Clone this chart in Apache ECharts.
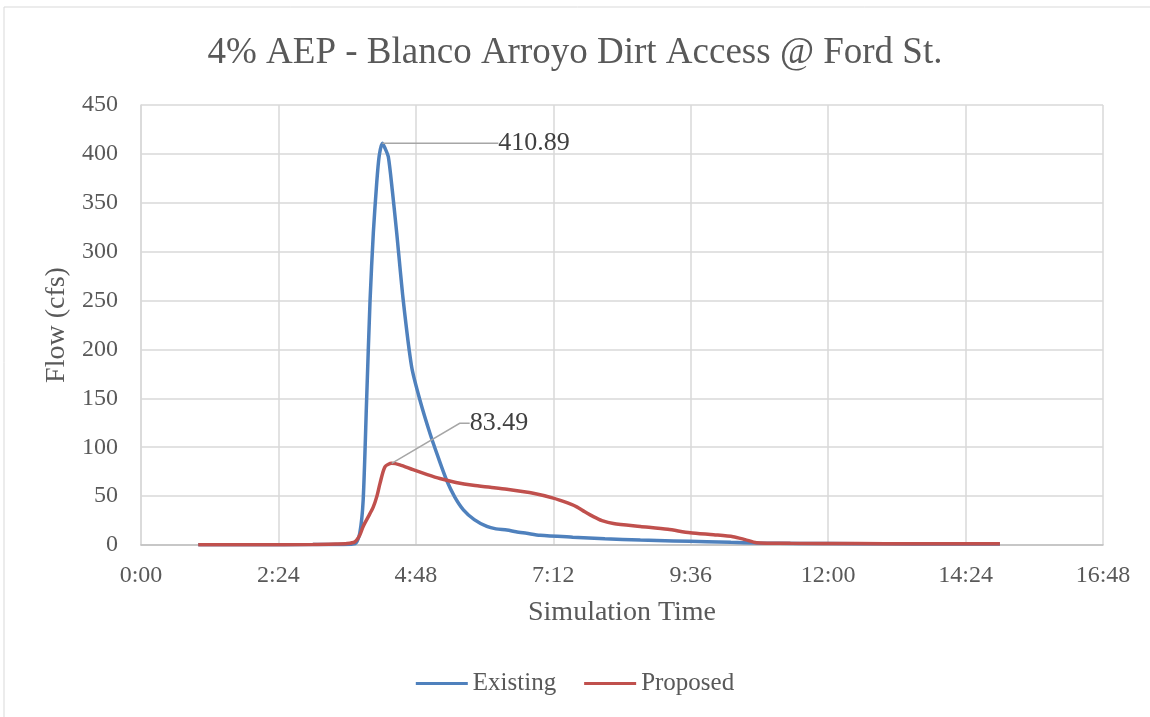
<!DOCTYPE html>
<html><head><meta charset="utf-8">
<script src="https://cdn.jsdelivr.net/npm/echarts@6/dist/echarts.min.js"></script>
<style>html,body{margin:0;padding:0;background:#fff}#c{width:1150px;height:717px}</style>
</head><body><div id="c"></div>
<script>
// time in hours, flow in cfs
const existingTime = [1.0, 2.0, 3.0, 3.5, 3.74, 3.82, 3.88, 3.94, 4.0, 4.057, 4.116, 4.16, 4.214, 4.26, 4.319, 4.39, 4.466, 4.58, 4.727, 4.872, 5.047, 5.2, 5.339, 5.48, 5.63, 5.82, 6.04, 6.2, 6.39, 6.55, 6.735, 6.97, 7.54, 8.1, 8.72, 9.3, 9.88, 10.3, 10.76, 11.5, 12.5, 13.5, 14.5, 15.0];
const existingFlow = [0.2, 0.3, 0.4, 0.6, 1.5, 12, 46, 148, 250, 319, 370, 398, 410.89, 406, 397, 362, 319, 250, 182, 148, 114, 88, 66, 49, 36, 26, 19, 16.5, 15.3, 13.5, 12, 10, 8, 6.3, 5, 4.2, 3.4, 2.7, 2, 1.6, 1.3, 1.1, 1.0, 1.0];
const proposedTime = [1.0, 2.0, 3.0, 3.4, 3.6, 3.737, 3.82, 3.88, 3.97, 4.057, 4.12, 4.174, 4.26, 4.377, 4.52, 4.75, 5.0, 5.22, 5.5, 5.8, 6.1, 6.39, 6.85, 7.2, 7.45, 7.61, 7.75, 7.9, 8.05, 8.25, 8.72, 9.2, 9.59, 10.0, 10.34, 10.55, 10.75, 11.34, 12.5, 13.5, 14.5, 15.0];
const proposedFlow = [0.2, 0.3, 0.5, 1.0, 1.5, 3.4, 10, 19, 29, 39, 50, 63, 80, 83.49, 82, 77, 72, 68, 64, 61, 59, 57, 53, 48, 43, 39, 34, 29, 25, 22, 19, 16, 12.6, 10.5, 8.5, 5.5, 2.4, 1.7, 1.5, 1.3, 1.2, 1.2];
const xTickLabels = ['0:00', '2:24', '4:48', '7:12', '9:36', '12:00', '14:24', '16:48'];
const yTicks = [0, 50, 100, 150, 200, 250, 300, 350, 400, 450];

const existingPeak = 410.89, proposedPeak = 83.49;
const font = '"Liberation Serif", "DejaVu Serif", serif';
const textColor = '#595959';

function pairs(t, v, peak) {
  return t.map((x, i) => {
    const item = { value: [x, v[i]] };
    if (v[i] === peak) {
      item.label = { show: true, formatter: String(peak) };
      item.labelLine = { show: true };
    }
    return item;
  });
}

const chart = echarts.init(document.getElementById('c'));
chart.setOption({
  backgroundColor: '#fff',
  animation: false,
  textStyle: { fontFamily: font },
  graphic: [{ type: 'rect', shape: { x: 4, y: 7, width: 1160, height: 720 }, style: { fill: 'none', stroke: '#d9d9d9', lineWidth: 1 }, silent: true }],
  title: {
    text: '4% AEP - Blanco Arroyo Dirt Access @ Ford St.',
    left: 'center', top: 30,
    textStyle: { fontFamily: font, fontSize: 37, fontWeight: 'normal', color: textColor }
  },
  legend: {
    bottom: 16, left: 'center',
    icon: 'rect', itemWidth: 52, itemHeight: 3, itemGap: 28,
    textStyle: { fontFamily: font, fontSize: 25, color: textColor },
    data: ['Existing', 'Proposed']
  },
  grid: { left: 141, right: 47, top: 105, bottom: 172, containLabel: false },
  xAxis: {
    type: 'value', min: 0, max: 16.8, interval: 2.4,
    name: 'Simulation Time', nameLocation: 'middle', nameGap: 54,
    nameTextStyle: { fontFamily: font, fontSize: 28, color: textColor },
    axisLine: { show: true, lineStyle: { color: '#bfbfbf', width: 1.5 } },
    axisTick: { show: false },
    splitLine: { show: true, lineStyle: { color: '#d9d9d9', width: 1.5 } },
    axisLabel: {
      fontFamily: font, fontSize: 24, color: textColor, margin: 19,
      formatter: v => xTickLabels[Math.round(v / 2.4)] || ''
    }
  },
  yAxis: {
    type: 'value', min: 0, max: 450, interval: 50,
    name: 'Flow (cfs)', nameLocation: 'middle', nameGap: 69, nameRotate: 90,
    nameTextStyle: { fontFamily: font, fontSize: 28, color: textColor },
    axisLine: { show: true, lineStyle: { color: '#d9d9d9', width: 1.5 } },
    axisTick: { show: false },
    splitLine: { show: true, lineStyle: { color: '#d9d9d9', width: 1.5 } },
    axisLabel: {
      fontFamily: font, fontSize: 24, color: textColor, margin: 23,
      formatter: v => yTicks.includes(v) ? String(v) : ''
    }
  },
  series: [
    {
      name: 'Existing', type: 'line', smooth: 0.25, showSymbol: true, symbol: 'circle', symbolSize: 0.1,
      lineStyle: { color: '#4f81bd', width: 3.5 }, itemStyle: { color: '#4f81bd' },
      data: pairs(existingTime, existingFlow, existingPeak),
      label: { show: false, position: 'right', distance: 4, fontFamily: font, fontSize: 26, color: '#404040' },
      labelLine: { show: true, length2: 0, lineStyle: { color: '#a6a6a6', width: 1.5 } },
      labelLayout: { dx: 112, dy: 0 },
      z: 2
    },
    {
      name: 'Proposed', type: 'line', smooth: 0.25, showSymbol: true, symbol: 'circle', symbolSize: 0.1,
      lineStyle: { color: '#c0504d', width: 3.5 }, itemStyle: { color: '#c0504d' },
      data: pairs(proposedTime, proposedFlow, proposedPeak),
      label: { show: false, position: 'right', distance: 4, fontFamily: font, fontSize: 26, color: '#404040' },
      labelLine: { show: true, length2: 10, lineStyle: { color: '#a6a6a6', width: 1.5 } },
      labelLayout: { dx: 74, dy: -40 },
      z: 3
    }
  ]
});
</script></body></html>
